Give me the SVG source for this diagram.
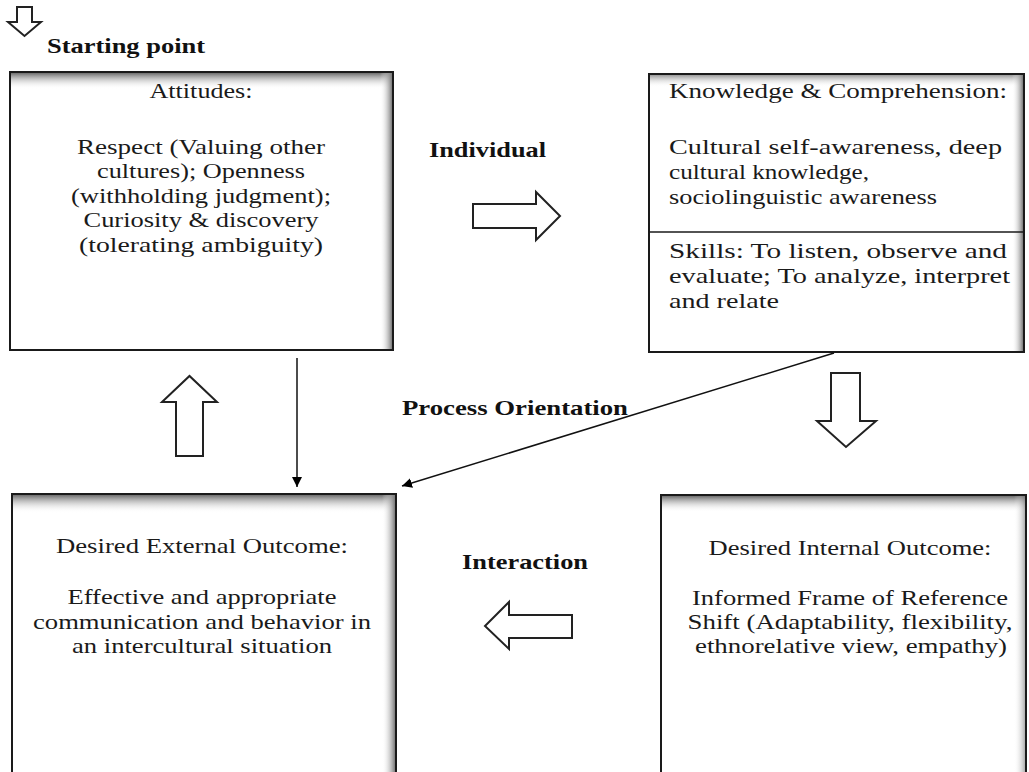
<svg xmlns="http://www.w3.org/2000/svg" width="1029" height="772" viewBox="0 0 1029 772">
<defs>
<linearGradient id="topShade" x1="0" y1="0" x2="0" y2="1">
<stop offset="0" stop-color="#6e6e6e" stop-opacity="1"/>
<stop offset="1" stop-color="#ffffff" stop-opacity="0"/>
</linearGradient>
<linearGradient id="rightShade" x1="0" y1="0" x2="1" y2="0">
<stop offset="0" stop-color="#ffffff" stop-opacity="0"/>
<stop offset="1" stop-color="#7a7a7a" stop-opacity="1"/>
</linearGradient>
<marker id="ah" viewBox="0 0 10 10" refX="10" refY="5" markerWidth="10" markerHeight="10" markerUnits="userSpaceOnUse" orient="auto">
<path d="M0,0 L10,5 L0,10 z" fill="#000"/>
</marker>
<style>
.box{fill:#fff;stroke:#1a1a1a;stroke-width:2}
.txt{font-family:"Liberation Serif","Times New Roman",serif;font-size:22px;fill:#1a1a1a}
.mid{text-anchor:middle}
.lbl{font-family:"Liberation Serif","Times New Roman",serif;font-size:21px;font-weight:bold;fill:#111}
.hollow{fill:#fff;stroke:#222;stroke-width:2;stroke-linejoin:miter}
.conn{stroke:#111;stroke-width:1.5;fill:none}
</style>
</defs>
<rect width="1029" height="772" fill="#fff"/>

<g id="start">
<path class="hollow" d="M17,7 L32,7 L32,22 L41,22 L24.5,36 L8,22 L17,22 Z"/>
<text class="lbl" x="47" y="53" textLength="158" lengthAdjust="spacingAndGlyphs">Starting point</text>
</g>

<g id="attitudes">
<rect class="box" x="10" y="72" width="383" height="278"/>
<rect x="11" y="73" width="381" height="16" fill="url(#topShade)"/>
<rect x="380" y="73" width="12" height="276" fill="url(#rightShade)"/>
<text class="txt mid" x="201" y="98" textLength="103" lengthAdjust="spacingAndGlyphs">Attitudes:</text>
<text class="txt mid" x="201" y="154" textLength="248" lengthAdjust="spacingAndGlyphs">Respect (Valuing other</text>
<text class="txt mid" x="201" y="178" textLength="208" lengthAdjust="spacingAndGlyphs">cultures); Openness</text>
<text class="txt mid" x="201" y="203" textLength="260" lengthAdjust="spacingAndGlyphs">(withholding judgment);</text>
<text class="txt mid" x="201" y="227" textLength="235" lengthAdjust="spacingAndGlyphs">Curiosity &amp; discovery</text>
<text class="txt mid" x="201" y="252" textLength="244" lengthAdjust="spacingAndGlyphs">(tolerating ambiguity)</text>
</g>

<g id="knowledge">
<rect class="box" x="649" y="74" width="375" height="278"/>
<rect x="650" y="75" width="373" height="12" fill="url(#topShade)" opacity="0.7"/>
<rect x="1012" y="75" width="11" height="276" fill="url(#rightShade)"/>
<line x1="649" y1="232" x2="1024" y2="232" stroke="#1a1a1a" stroke-width="1.5"/>
<text class="txt" x="669" y="98" textLength="338" lengthAdjust="spacingAndGlyphs">Knowledge &amp; Comprehension:</text>
<text class="txt" x="669" y="154" textLength="333" lengthAdjust="spacingAndGlyphs">Cultural self-awareness, deep</text>
<text class="txt" x="669" y="179" textLength="200" lengthAdjust="spacingAndGlyphs">cultural knowledge,</text>
<text class="txt" x="669" y="204" textLength="268" lengthAdjust="spacingAndGlyphs">sociolinguistic awareness</text>
<text class="txt" x="669" y="258" textLength="338" lengthAdjust="spacingAndGlyphs">Skills: To listen, observe and</text>
<text class="txt" x="669" y="283" textLength="341" lengthAdjust="spacingAndGlyphs">evaluate; To analyze, interpret</text>
<text class="txt" x="669" y="308" textLength="110" lengthAdjust="spacingAndGlyphs">and relate</text>
</g>

<g id="external">
<rect class="box" x="12" y="494" width="384" height="290"/>
<rect x="13" y="495" width="382" height="18" fill="url(#topShade)"/>
<rect x="382" y="495" width="13" height="277" fill="url(#rightShade)"/>
<text class="txt mid" x="202" y="553" textLength="292" lengthAdjust="spacingAndGlyphs">Desired External Outcome:</text>
<text class="txt mid" x="202" y="604" textLength="269" lengthAdjust="spacingAndGlyphs">Effective and appropriate</text>
<text class="txt mid" x="202" y="629" textLength="338" lengthAdjust="spacingAndGlyphs">communication and behavior in</text>
<text class="txt mid" x="202" y="653" textLength="260" lengthAdjust="spacingAndGlyphs">an intercultural situation</text>
</g>

<g id="internal">
<rect class="box" x="661" y="495" width="365" height="290"/>
<rect x="662" y="496" width="363" height="16" fill="url(#topShade)"/>
<rect x="1014" y="496" width="11" height="276" fill="url(#rightShade)" opacity="0.6"/>
<text class="txt mid" x="850" y="555" textLength="283" lengthAdjust="spacingAndGlyphs">Desired Internal Outcome:</text>
<text class="txt mid" x="850" y="605" textLength="316" lengthAdjust="spacingAndGlyphs">Informed Frame of Reference</text>
<text class="txt mid" x="850" y="629" textLength="325" lengthAdjust="spacingAndGlyphs">Shift (Adaptability, flexibility,</text>
<text class="txt mid" x="851" y="653" textLength="312" lengthAdjust="spacingAndGlyphs">ethnorelative view, empathy)</text>
</g>

<g id="labels">
<text class="lbl" x="429" y="157" textLength="117" lengthAdjust="spacingAndGlyphs">Individual</text>
<text class="lbl" x="402" y="415" textLength="226" lengthAdjust="spacingAndGlyphs">Process Orientation</text>
<text class="lbl" x="462" y="569" textLength="126" lengthAdjust="spacingAndGlyphs">Interaction</text>
</g>

<g id="connectors">
<path class="hollow" d="M473,204 L536,204 L536,192 L560,216 L536,240 L536,228 L473,228 Z"/>
<path class="hollow" d="M831,373 L860,373 L860,421 L876,421 L846,447 L817,421 L831,421 Z"/>
<path class="hollow" d="M572,615 L509,615 L509,602 L485,626 L509,649 L509,638 L572,638 Z"/>
<path class="hollow" d="M176,456 L203,456 L203,402 L217,402 L189.5,376 L162,402 L176,402 Z"/>
<line class="conn" x1="297" y1="358" x2="297" y2="487" marker-end="url(#ah)"/>
<line class="conn" x1="834" y1="353" x2="402" y2="486" marker-end="url(#ah)"/>
</g>
</svg>
